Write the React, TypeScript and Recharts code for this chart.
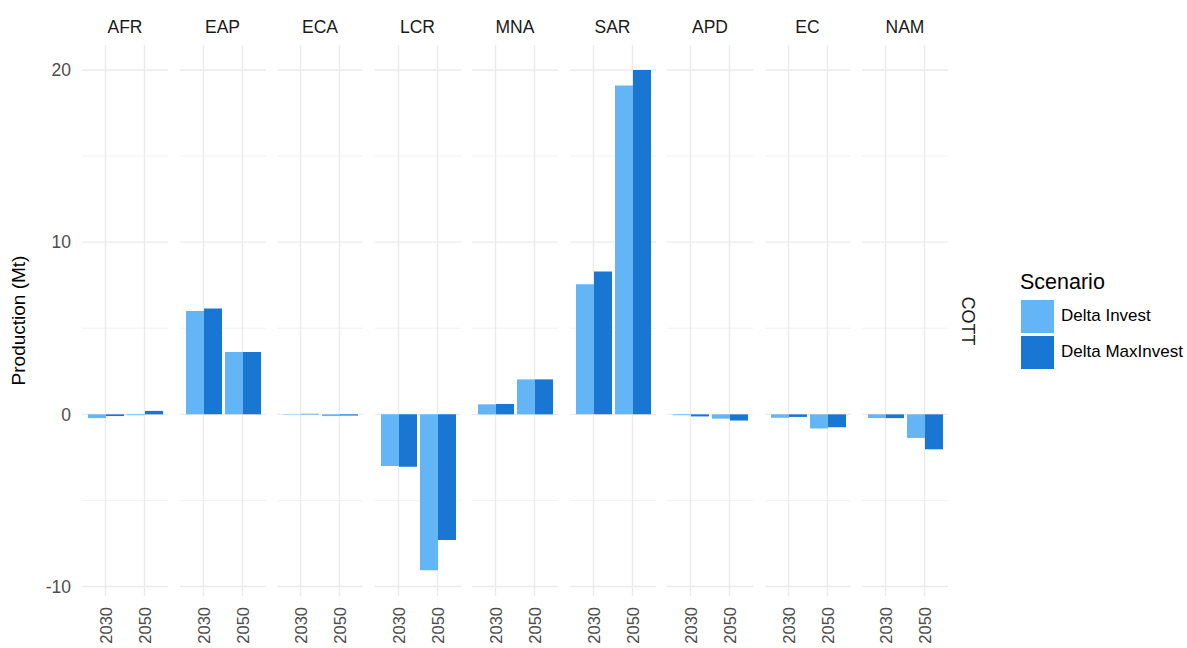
import React from "react";
import { BarChart, Bar, XAxis, YAxis, CartesianGrid } from "recharts";

const REGIONS = ["AFR", "EAP", "ECA", "LCR", "MNA", "SAR", "APD", "EC", "NAM"];
const YEARS = ["2030", "2050"];
// values per region: [2030, 2050]
const DELTA_INVEST = [
  [-0.22, -0.05], [6.0, 3.62], [0.02, -0.1], [-3.0, -9.05], [0.58, 2.03],
  [7.55, 19.1], [-0.05, -0.25], [-0.2, -0.82], [-0.22, -1.37],
];
const DELTA_MAXINVEST = [
  [-0.1, 0.2], [6.15, 3.62], [0.03, -0.07], [-3.05, -7.3], [0.6, 2.03],
  [8.3, 20.0], [-0.12, -0.36], [-0.15, -0.75], [-0.22, -2.03],
];
const MAJOR_TICKS = [-10, 0, 10, 20];
const MINOR_TICKS = [-5, 5, 15];
const Y_DOMAIN: [number, number] = [-10.55, 21.45];

const SERIES = [
  { key: "Delta Invest", color: "#64B5F6" },
  { key: "Delta MaxInvest", color: "#1976D2" },
];

const FONT = '"Liberation Sans", Arial, sans-serif';
const GRID = "#ebebeb";
const PANEL_W = 86;
const PANEL_STEP = 97.5;
const PANEL_X0 = 82;
const PLOT_TOP = 45;
const PLOT_H = 551;
const XAXIS_H = 52;
const YAXIS_W = 82;
const X_PAD = 4;

// grid positions from the plot box the library hands over
const yLines = (vals: number[]) => (args: any) => {
  const { yAxis, offset, height } = args;
  if (yAxis && typeof yAxis.scale === "function") return vals.map((v) => yAxis.scale(v));
  const top = offset.top;
  const h = offset.height ?? height - offset.top - offset.bottom;
  return vals.map((v) => top + ((Y_DOMAIN[1] - v) / (Y_DOMAIN[1] - Y_DOMAIN[0])) * h);
};

const xLines = (args: any) => {
  const { xAxis, offset, width } = args;
  if (xAxis && typeof xAxis.scale === "function") {
    const s = xAxis.scale;
    const bw = typeof s.bandwidth === "function" ? s.bandwidth() : 0;
    return YEARS.map((y) => s(y) + bw / 2);
  }
  const left = offset.left;
  const w = offset.width ?? width - offset.left - offset.right;
  const band = (w - 2 * X_PAD) / YEARS.length;
  return YEARS.map((_, i) => left + X_PAD + band * (i + 0.5));
};

function YearTick(props: any) {
  const { x, y, payload } = props;
  const ty = y + 9;
  return (
    <text
      x={x}
      y={ty}
      transform={`rotate(-90, ${x}, ${ty})`}
      textAnchor="end"
      dominantBaseline="central"
      fill="#4d4d4d"
      fontSize={16.5}
      fontFamily={FONT}
    >
      {payload.value}
    </text>
  );
}

function Panel({ idx }: { idx: number }) {
  const data = YEARS.map((yr, j) => ({
    year: yr,
    "Delta Invest": DELTA_INVEST[idx][j],
    "Delta MaxInvest": DELTA_MAXINVEST[idx][j],
  }));
  const first = idx === 0;
  const left = first ? 0 : PANEL_X0 + idx * PANEL_STEP;
  const width = first ? YAXIS_W + PANEL_W : PANEL_W;
  return (
    <div style={{ position: "absolute", left, top: PLOT_TOP }}>
      <BarChart
        width={width}
        height={PLOT_H + XAXIS_H}
        data={data}
        margin={{ top: 0, right: 0, bottom: 0, left: 0 }}
        barCategoryGap={2}
        barGap={0}
      >
        <CartesianGrid
          stroke={GRID}
          strokeWidth={0.7}
          vertical={false}
          horizontalCoordinatesGenerator={yLines(MINOR_TICKS)}
        />
        <CartesianGrid
          stroke={GRID}
          strokeWidth={1.4}
          horizontalCoordinatesGenerator={yLines(MAJOR_TICKS)}
          verticalCoordinatesGenerator={xLines}
        />
        <XAxis
          dataKey="year"
          padding={{ left: X_PAD, right: X_PAD }}
          axisLine={false}
          tickLine={false}
          tickSize={0}
          height={XAXIS_H}
          tick={<YearTick />}
          interval={0}
        />
        <YAxis
          hide={!first}
          width={first ? YAXIS_W : 0}
          domain={Y_DOMAIN}
          ticks={MAJOR_TICKS}
          type="number"
          allowDataOverflow
          axisLine={false}
          tickLine={false}
          tickSize={0}
          tickMargin={11}
          tick={{ fill: "#4d4d4d", fontSize: 17.5, fontFamily: FONT }}
          label={
            first
              ? {
                  content: ({ viewBox }: any) => {
                    const cx = 18;
                    const cy = viewBox.y + viewBox.height / 2;
                    return (
                      <text
                        x={cx}
                        y={cy}
                        transform={`rotate(-90, ${cx}, ${cy})`}
                        textAnchor="middle"
                        dominantBaseline="central"
                        fill="#000"
                        fontSize={19}
                        fontFamily={FONT}
                      >
                        Production (Mt)
                      </text>
                    );
                  },
                }
              : undefined
          }
        />
        {SERIES.map((s) => (
          <Bar key={s.key} dataKey={s.key} fill={s.color} isAnimationActive={false} />
        ))}
      </BarChart>
    </div>
  );
}

export default function App() {
  return (
    <div
      style={{
        position: "absolute",
        left: 0,
        top: 0,
        width: 1187,
        height: 648,
        background: "#fff",
        fontFamily: FONT,
        overflow: "hidden",
      }}
    >
      {REGIONS.map((r, i) => (
        <div
          key={r}
          style={{
            position: "absolute",
            left: PANEL_X0 + i * PANEL_STEP,
            top: 16,
            width: PANEL_W,
            height: 22,
            lineHeight: "22px",
            textAlign: "center",
            fontSize: 17.5,
            color: "#1a1a1a",
          }}
        >
          {r}
        </div>
      ))}
      {REGIONS.map((r, i) => (
        <Panel key={r} idx={i} />
      ))}
      <div
        style={{
          position: "absolute",
          left: 967,
          top: PLOT_TOP + PLOT_H / 2,
          transform: "translate(-50%, -50%) rotate(90deg)",
          fontSize: 18,
          color: "#1a1a1a",
          whiteSpace: "nowrap",
        }}
      >
        COTT
      </div>
      <div style={{ position: "absolute", left: 1020, top: 269 }}>
        <div style={{ fontSize: 21.5, color: "#000", height: 29, lineHeight: "26px" }}>Scenario</div>
        {SERIES.map((s) => (
          <div key={s.key} style={{ display: "flex", alignItems: "center", height: 36 }}>
            <div style={{ width: 33, height: 33, background: s.color, marginLeft: 1 }} />
            <span style={{ marginLeft: 7, fontSize: 17, color: "#000" }}>{s.key}</span>
          </div>
        ))}
      </div>
    </div>
  );
}
